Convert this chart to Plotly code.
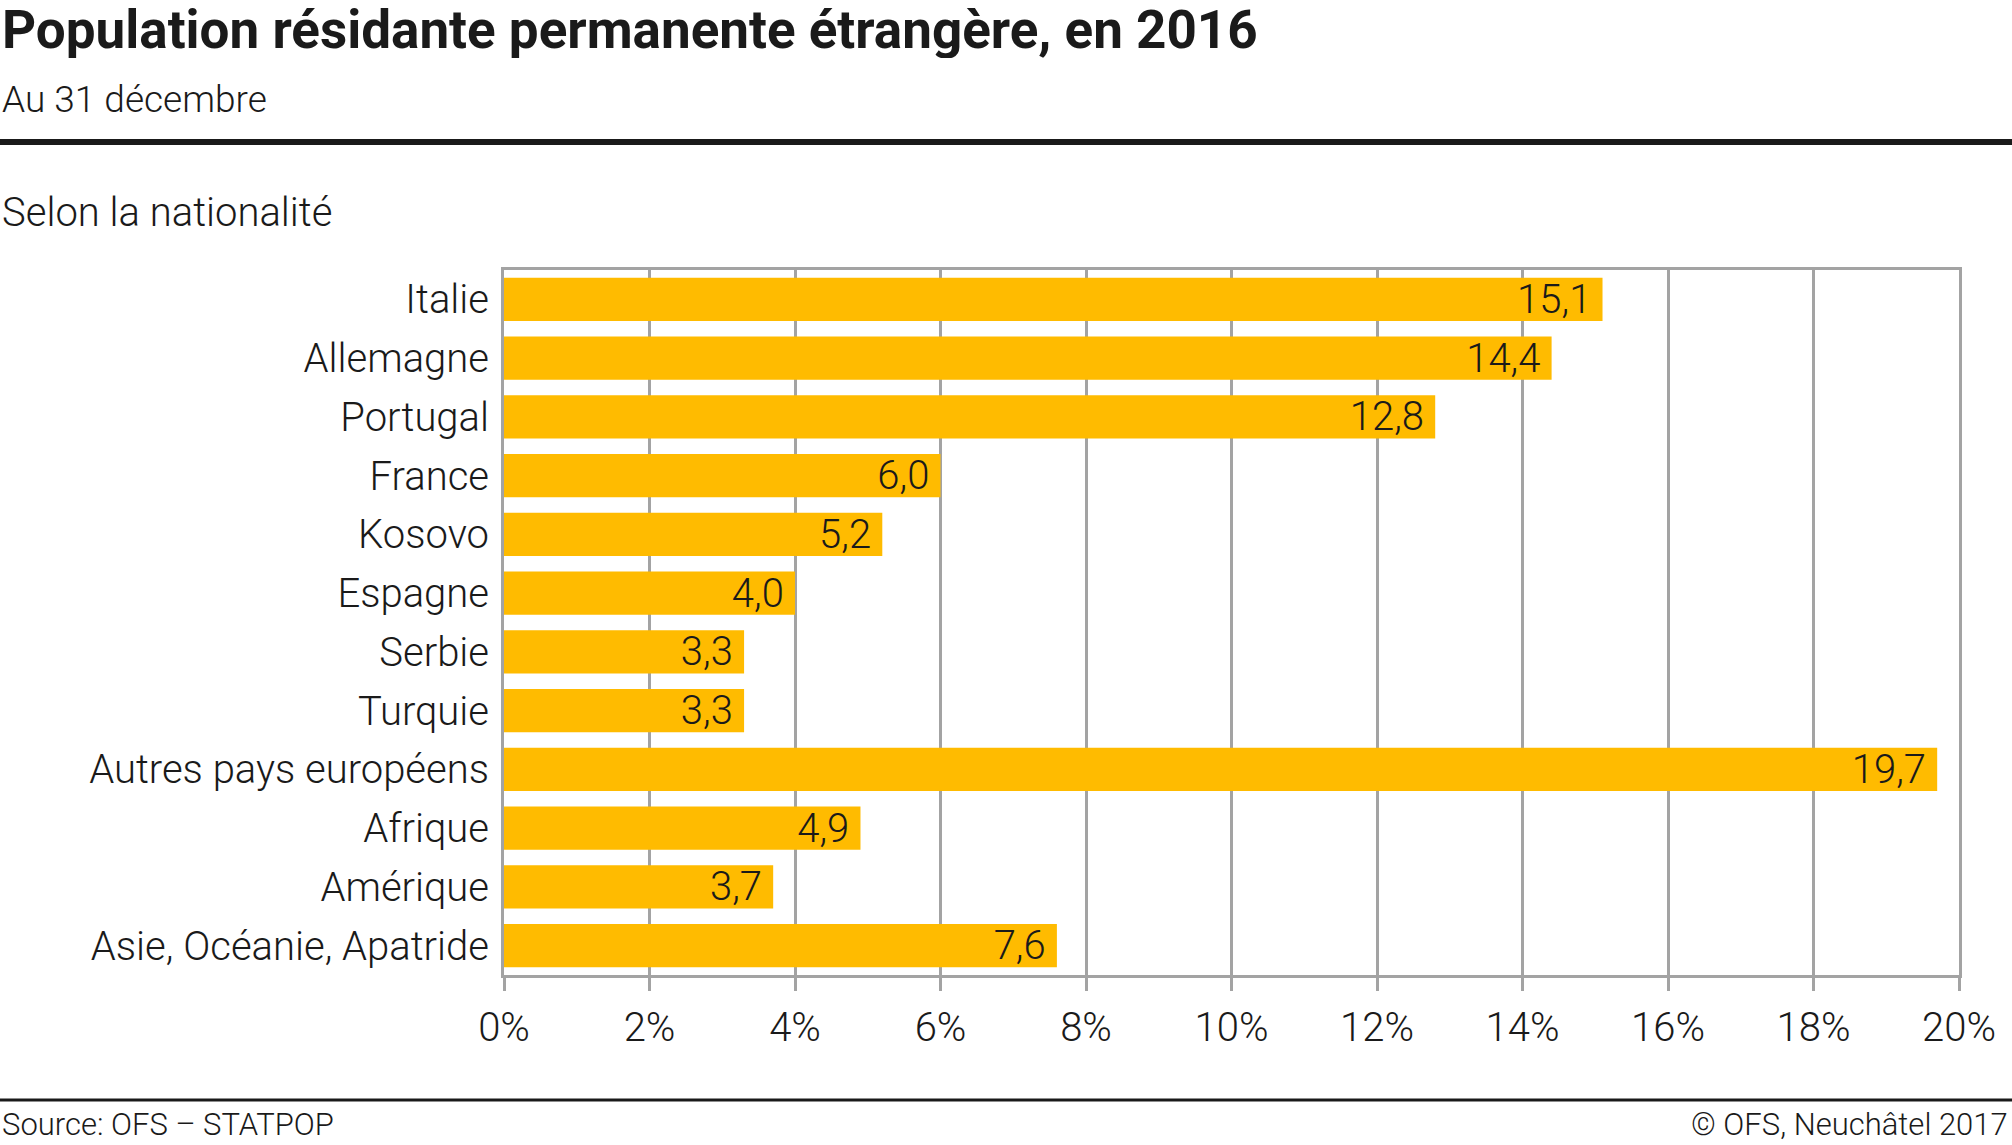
import plotly.graph_objects as go

categories = ["Italie", "Allemagne", "Portugal", "France", "Kosovo", "Espagne",
              "Serbie", "Turquie", "Autres pays européens", "Afrique", "Amérique",
              "Asie, Océanie, Apatride"]
values = [15.1, 14.4, 12.8, 6.0, 5.2, 4.0, 3.3, 3.3, 19.7, 4.9, 3.7, 7.6]
tick_vals = [0, 2, 4, 6, 8, 10, 12, 14, 16, 18, 20]
tick_text = ["0%", "2%", "4%", "6%", "8%", "10%", "12%", "14%", "16%", "18%", "20%"]

title_text = "Population résidante permanente étrangère, en 2016"
subtitle_text = "Au 31 décembre"
section_text = "Selon la nationalité"
source_text = "Source: OFS – STATPOP"
copyright_text = "© OFS, Neuchâtel 2017"

W, H = 2012, 1145
L, R, T, B = 504, 1959, 270, 975
FONT = "Roboto"
DARK = "#1a1a1a"
GRID = "#a3a3a3"
BAR = "#ffbb00"


def px(x):
    return (x - L) / (R - L)


def py(y):
    return (B - y) / (B - T)


fig = go.Figure()
fig.add_trace(go.Bar(
    x=values, y=categories, orientation="h",
    marker=dict(color=BAR, line=dict(width=0)),
    texttemplate="%{x:.1f}\u2009", textposition="inside", insidetextanchor="end",
    textangle=0,
    textfont=dict(family=FONT, size=40, color=DARK, weight=300),
    cliponaxis=False, hoverinfo="skip",
))

fig.update_layout(
    width=W, height=H,
    margin=dict(l=L, r=W - R, t=T, b=H - B, pad=0),
    paper_bgcolor="white", plot_bgcolor="white",
    separators=", ",
    bargap=0.26,
    showlegend=False,
    font=dict(family=FONT, color=DARK, size=40, weight=300),
    uniformtext=dict(minsize=40, mode="show"),
)
fig.update_xaxes(
    range=[0, 20], tickmode="array", tickvals=tick_vals, ticktext=tick_text,
    showgrid=True, gridcolor=GRID, gridwidth=2.5,
    showline=True, linecolor=GRID, linewidth=3, mirror=True,
    ticks="outside", ticklen=13, tickwidth=2.5, tickcolor=GRID,
    ticklabelstandoff=2,
    tickfont=dict(family=FONT, size=40, color=DARK, weight=300),
    zeroline=False, fixedrange=True,
)
fig.update_yaxes(
    autorange="reversed", categoryorder="array", categoryarray=categories,
    showline=True, linecolor=GRID, linewidth=3, mirror=True,
    showgrid=False, ticks="", ticklabelstandoff=4,
    tickfont=dict(family=FONT, size=40, color=DARK, weight=300),
    fixedrange=True,
)

annos = [
    dict(text=title_text, x=px(0), y=py(0), xanchor="left", yanchor="top",
         height=56, valign="middle",
         font=dict(family=FONT, size=53, color=DARK, weight=700)),
    dict(text=subtitle_text, x=px(0), y=py(99), xanchor="left", yanchor="middle",
         font=dict(family=FONT, size=37, color=DARK, weight=300)),
    dict(text=section_text, x=px(0), y=py(212), xanchor="left", yanchor="middle",
         font=dict(family=FONT, size=40, color=DARK, weight=300)),
    dict(text=source_text, x=px(0), y=py(1124), xanchor="left", yanchor="middle",
         font=dict(family=FONT, size=31, color=DARK, weight=300)),
    dict(text=copyright_text, x=px(W - 2), y=py(1124), xanchor="right", yanchor="middle",
         font=dict(family=FONT, size=31, color=DARK, weight=300)),
]
for a in annos:
    fig.add_annotation(xref="paper", yref="paper", showarrow=False, **a)

for yy, lw in ((142, 6), (1100, 3)):
    fig.add_shape(type="line", xref="paper", yref="paper",
                  x0=px(0), x1=px(W), y0=py(yy), y1=py(yy),
                  line=dict(color=DARK, width=lw))

fig.write_html("out.html",
               config={"displayModeBar": False, "staticPlot": False},
               post_script="document.body.style.margin='0';document.body.style.overflow='hidden';")
